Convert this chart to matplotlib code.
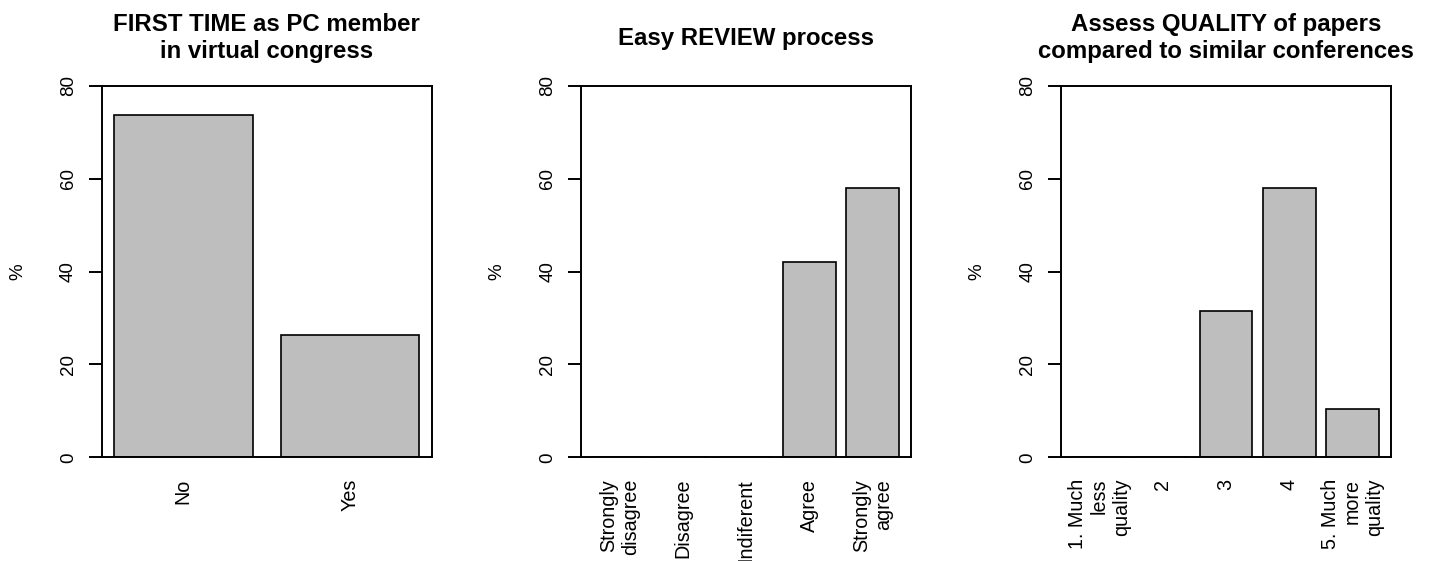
import matplotlib
matplotlib.use("Agg")
import matplotlib.pyplot as plt
import numpy as np

plt.rcParams['font.family'] = ['Liberation Sans', 'DejaVu Sans']

# Survey answers, in percent of respondents
first_time_labels = ["No", "Yes"]
first_time_pct = [73.7, 26.3]

review_labels = ["Strongly\ndisagree", "Disagree", "Indiferent", "Agree", "Strongly\nagree"]
review_pct = [0.0, 0.0, 0.0, 42.1, 57.9]

quality_labels = ["1. Much\nless\nquality", "2", "3", "4", "5. Much\nmore\nquality"]
quality_pct = [0.0, 0.0, 31.6, 57.9, 10.5]

titles = [
    "FIRST TIME as PC member\nin virtual congress",
    "Easy REVIEW process",
    "Assess QUALITY of papers\ncompared to similar conferences",
]
y_ticks = [0, 20, 40, 60, 80]
y_label = "%"

W, H = 1434, 561
fig = plt.figure(figsize=(W / 100, H / 100), dpi=100)

panels = [
    (first_time_labels, first_time_pct),
    (review_labels, review_pct),
    (quality_labels, quality_pct),
]

box_left_px = [101.7, 581.0, 1061.0]
box_w_px = 330.0
box_top_px, box_bot_px = 85.7, 457.3

for (labels, vals), title, lpx in zip(panels, titles, box_left_px):
    ax = fig.add_axes([lpx / W, 1 - box_bot_px / H, box_w_px / W,
                       (box_bot_px - box_top_px) / H])
    n = len(vals)
    # barplot geometry: unit-width bars separated by 0.2
    lefts = 0.2 + 1.2 * np.arange(n)
    centers = lefts + 0.5
    ax.bar(centers, vals, width=1.0, color="#BEBEBE", edgecolor="black",
           linewidth=1.2)
    lo, hi = 0.2, 1.2 * n
    pad = 0.04 * (hi - lo)
    ax.set_xlim(lo - pad, hi + pad)
    ax.set_ylim(0, 80)

    for sp in ax.spines.values():
        sp.set_linewidth(1.4)

    ax.set_yticks(y_ticks)
    ax.set_yticklabels([str(t) for t in y_ticks], rotation=90, va="center",
                       fontsize=13.5)
    ax.tick_params(axis="y", length=9.2, width=1.4, pad=8.5)

    ax.set_xticks(centers)
    ax.set_xticklabels(labels, rotation=90, ha="center", va="top",
                       multialignment="right", fontsize=14.2, linespacing=1.22)
    ax.tick_params(axis="x", length=0, pad=15.5)

    cx = (lpx + box_w_px / 2) / W
    fig.text(cx, 1 - 38 / H, title, ha="center", va="center",
             fontsize=17.3, fontweight="bold", linespacing=1.2)
    fig.text((lpx - 84) / W, 1 - (box_top_px + box_bot_px) / 2 / H, y_label,
             rotation=90, ha="center", va="center", fontsize=13.5)

fig.savefig("out.png", dpi=100, facecolor="white")
